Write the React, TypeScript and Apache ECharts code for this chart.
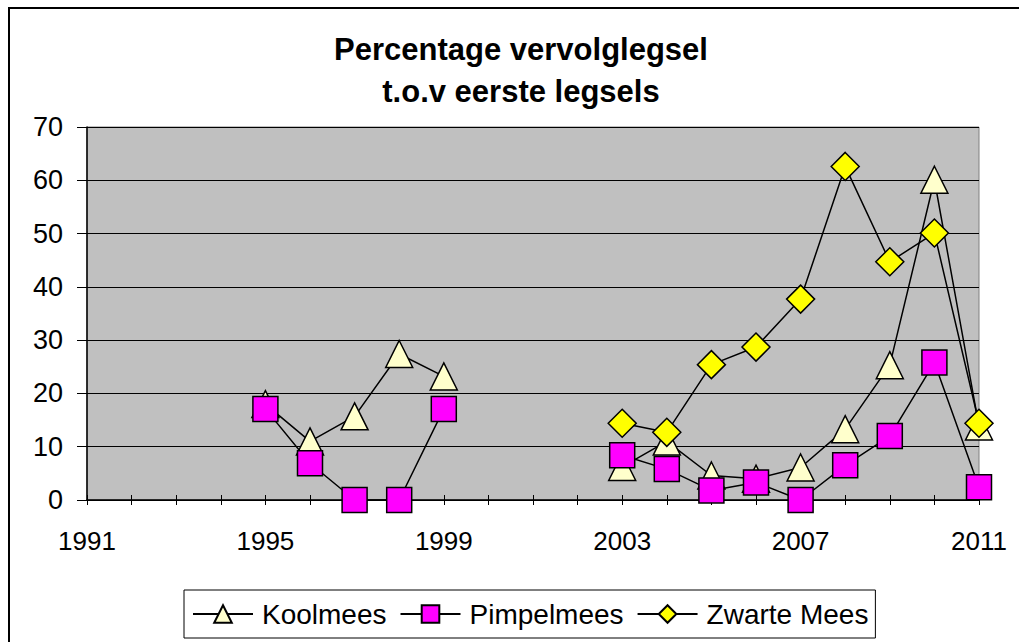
import React, { useEffect, useRef } from "react";
import * as echarts from "echarts";

const years: string[] = [
  "1991", "1992", "1993", "1994", "1995", "1996", "1997", "1998", "1999", "2000",
  "2001", "2002", "2003", "2004", "2005", "2006", "2007", "2008", "2009", "2010", "2011",
];
const koolmees: (number | null)[] = [
  null, null, null, null, 18, 11, 15.7, 27.4, 23.2, null, null, null,
  6.2, 11, 4.6, 4, 6.1, 13.3, 25.3, 60.1, 13.8,
];
const pimpelmees: (number | null)[] = [
  null, null, null, null, 17.1, 6.9, 0, 0, 17.1, null, null, null,
  8.4, 5.8, 1.8, 3.3, 0, 6.5, 12, 25.8, 2.4,
];
const zwarteMees: (number | null)[] = [
  null, null, null, null, null, null, null, null, null, null, null, null,
  14.4, 12.7, 25.4, 28.7, 37.7, 62.6, 44.7, 50.1, 14.4,
];
const yTicks = { min: 0, max: 70, interval: 10 };

const FONT = "'Liberation Sans', Arial, sans-serif";

export default function App() {
  const ref = useRef<HTMLDivElement>(null);
  useEffect(() => {
    if (!ref.current) return;
    const chart = echarts.init(ref.current, null, { renderer: "svg" });
    const lineStyle = { color: "#000", width: 1.5 };
    const itemBorder = { borderColor: "#000", borderWidth: 1.5 };
    chart.setOption({
      animation: false,
      backgroundColor: "#fff",
      title: {
        text: "Percentage vervolglegsel\nt.o.v eerste legsels",
        left: 521,
        top: 28,
        textAlign: "center",
        padding: 0,
        textStyle: {
          fontFamily: FONT,
          fontWeight: "bold",
          fontSize: 31,
          lineHeight: 42,
          color: "#000",
        },
      },
      legend: {
        left: 184,
        top: 590,
        orient: "horizontal",
        borderColor: "#000",
        borderWidth: 1,
        padding: [10, 7, 10, 8],
        itemGap: 13,
        itemWidth: 60,
        itemHeight: 22,
        textStyle: {
          fontFamily: FONT,
          fontSize: 28,
          color: "#000",
          padding: [0, 0, 0, 4],
        },
        data: ["Koolmees", "Pimpelmees", "Zwarte Mees"],
      },
      grid: {
        left: 87,
        right: 40,
        top: 127,
        bottom: 142,
        show: true,
        backgroundColor: "#C0C0C0",
        borderColor: "#808080",
        borderWidth: 1,
      },
      xAxis: [
        {
          type: "category",
          data: years,
          boundaryGap: false,
          axisLine: { show: true, lineStyle: { color: "#000", width: 1.5 } },
          axisTick: { show: true, interval: 0, length: 5, lineStyle: { color: "#000" } },
          axisLabel: {
            interval: 3,
            margin: 28,
            fontFamily: FONT,
            fontSize: 26,
            color: "#000",
          },
          splitLine: { show: false },
        },
        {
          type: "category",
          data: years,
          boundaryGap: false,
          position: "bottom",
          axisLine: { show: false },
          axisTick: { show: true, inside: true, interval: 0, length: 5, lineStyle: { color: "#000" } },
          axisLabel: { show: false },
          splitLine: { show: false },
        },
      ],
      yAxis: {
        type: "value",
        min: yTicks.min,
        max: yTicks.max,
        interval: yTicks.interval,
        axisLine: { show: true, lineStyle: { color: "#000", width: 1.5 } },
        axisTick: { show: true, length: 10, lineStyle: { color: "#000" } },
        axisLabel: { margin: 24, fontFamily: FONT, fontSize: 27, color: "#000" },
        splitLine: { show: true, lineStyle: { color: "#000", width: 1 } },
      },
      series: [
        {
          name: "Koolmees",
          type: "line",
          data: koolmees,
          connectNulls: false,
          symbol: "triangle",
          symbolSize: [27, 27],
          showAllSymbol: true,
          lineStyle,
          itemStyle: { color: "#FFFFCC", ...itemBorder },
          z: 2,
        },
        {
          name: "Pimpelmees",
          type: "line",
          data: pimpelmees,
          connectNulls: false,
          symbol: "rect",
          symbolSize: [25, 25],
          showAllSymbol: true,
          lineStyle,
          itemStyle: { color: "#FF00FF", ...itemBorder },
          z: 3,
        },
        {
          name: "Zwarte Mees",
          type: "line",
          data: zwarteMees,
          connectNulls: false,
          symbol: "diamond",
          symbolSize: [28, 28],
          showAllSymbol: true,
          lineStyle,
          itemStyle: { color: "#FFFF00", ...itemBorder },
          z: 4,
        },
      ],
      graphic: [
        {
          type: "rect",
          shape: { x: 9, y: 8, width: 1040, height: 660 },
          style: { fill: "none", stroke: "#000", lineWidth: 2 },
          silent: true,
        },
      ],
    });
    return () => chart.dispose();
  }, []);
  return (
    <div
      ref={ref}
      style={{ position: "fixed", left: 0, top: 0, width: 1019, height: 642 }}
    />
  );
}
